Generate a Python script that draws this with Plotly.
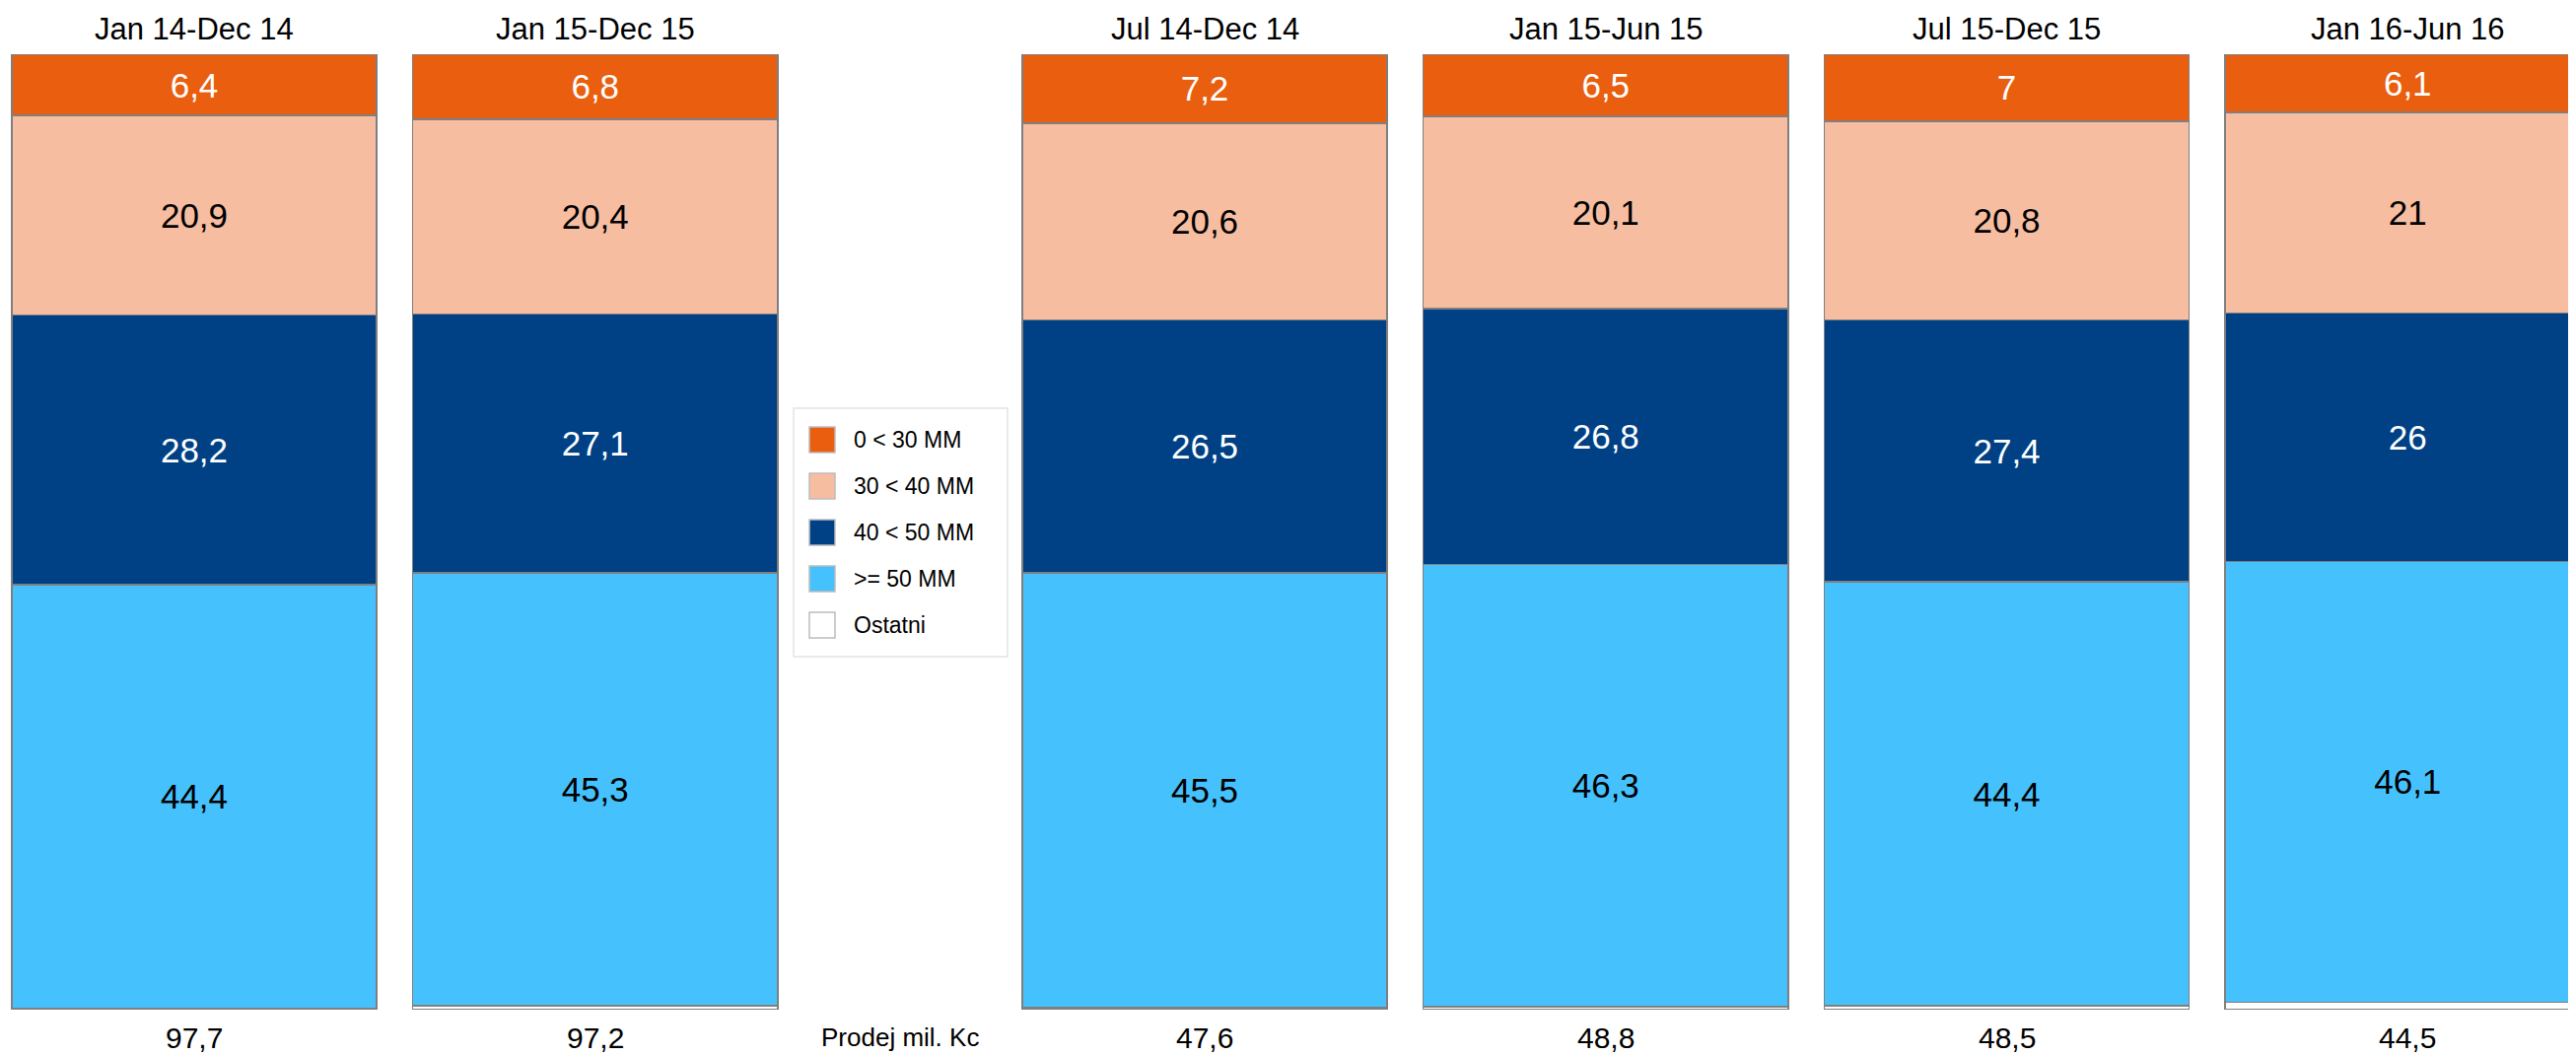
import numpy as np
import plotly.graph_objects as go

# ---- data ----
periods = ["Jan 14-Dec 14", "Jan 15-Dec 15", "Jul 14-Dec 14",
           "Jan 15-Jun 15", "Jul 15-Dec 15", "Jan 16-Jun 16"]
share_0_30 = [6.4, 6.8, 7.2, 6.5, 7.0, 6.1]
share_30_40 = [20.9, 20.4, 20.6, 20.1, 20.8, 21.0]
share_40_50 = [28.2, 27.1, 26.5, 26.8, 27.4, 26.0]
share_50_plus = [44.4, 45.3, 45.5, 46.3, 44.4, 46.1]
share_ostatni = [0.1, 0.4, 0.2, 0.3, 0.4, 0.8]
sales_total = [97.7, 97.2, 47.6, 48.8, 48.5, 44.5]
sales_label = "Prodej mil. Kc"
series_names = ["0 < 30 MM", "30 < 40 MM", "40 < 50 MM", ">= 50 MM", "Ostatni"]

# ---- style ----
PAGE_W, PAGE_H = 2613, 1071
OFF = 8  # default page body margin
W, H = PAGE_W - OFF, PAGE_H - OFF
FONT = "Arial, 'Liberation Sans', sans-serif"
colors = {"0 < 30 MM": "#E95E0F", "30 < 40 MM": "#F7BDA0",
          "40 < 50 MM": "#004186", ">= 50 MM": "#45C2FD", "Ostatni": "#FFFFFF"}
text_colors = {"0 < 30 MM": "white", "30 < 40 MM": "black",
               "40 < 50 MM": "white", ">= 50 MM": "black", "Ostatni": "black"}
edge = "#7F7F7F"

gap = 0.52
idx = np.arange(len(periods))
xpos = idx + np.where(idx >= 2, gap, 0.0)
bar_w = 0.91
pitch_px = 406.75
first_center_px = 197 - OFF


def fmt(v):
    return f"{v:g}".replace(".", ",")


stack = [("Ostatni", share_ostatni), (">= 50 MM", share_50_plus),
         ("40 < 50 MM", share_40_50), ("30 < 40 MM", share_30_40),
         ("0 < 30 MM", share_0_30)]

fig = go.Figure()
for name, vals in stack:
    fig.add_trace(go.Bar(
        x=xpos, y=vals, name=name, width=bar_w,
        marker=dict(color=colors[name], line=dict(color=edge, width=1.5)),
        text=None if name == "Ostatni" else [fmt(v) for v in vals],
        textposition="inside", insidetextanchor="middle",
        textfont=dict(family=FONT, size=35, color=text_colors[name]),
        showlegend=False, hoverinfo="skip",
    ))

# page-pixel helpers
mt = 55 - OFF
mb = H - (1024 - OFF)
ph = H - mt - mb


def px_x(p):
    return (p - OFF) / W


def px_y(p):
    return (H - mb - (p - OFF)) / ph


annotations = []
for xp, per, tot in zip(xpos, periods, sales_total):
    annotations.append(dict(x=xp, y=px_y(29), xref="x", yref="paper", text=per,
                            showarrow=False, font=dict(family=FONT, size=31, color="black"),
                            xanchor="center", yanchor="middle"))
    annotations.append(dict(x=xp, y=px_y(1052), xref="x", yref="paper", text=fmt(tot),
                            showarrow=False, font=dict(family=FONT, size=30, color="black"),
                            xanchor="center", yanchor="middle"))
annotations.append(dict(x=(xpos[1] + xpos[2]) / 2, y=px_y(1052), xref="x", yref="paper",
                        text=sales_label, showarrow=False,
                        font=dict(family=FONT, size=26, color="black"),
                        xanchor="center", yanchor="middle"))

# custom legend
shapes = [dict(type="rect", xref="paper", yref="paper",
               x0=px_x(805), x1=px_x(1022), y0=px_y(666), y1=px_y(414),
               line=dict(color="#E3E3E3", width=1.5), fillcolor="white", layer="above")]
for k, name in enumerate(series_names):
    top = 433 + 47 * k
    shapes.append(dict(type="rect", xref="paper", yref="paper",
                       x0=px_x(821), x1=px_x(847), y0=px_y(top + 26), y1=px_y(top),
                       line=dict(color="#BDBDBD", width=1.5), fillcolor=colors[name],
                       layer="above"))
    annotations.append(dict(x=px_x(864), y=px_y(top + 13), xref="paper", yref="paper",
                            text=name, showarrow=False,
                            font=dict(family=FONT, size=23, color="black"),
                            xanchor="left", yanchor="middle"))

x0 = -first_center_px / pitch_px
x1 = (W - first_center_px) / pitch_px
fig.update_layout(
    width=W, height=H, barmode="stack",
    margin=dict(l=0, r=0, t=mt, b=mb),
    plot_bgcolor="white", paper_bgcolor="white",
    xaxis=dict(range=[x0, x1], visible=False, fixedrange=True),
    yaxis=dict(range=[0, 100], visible=False, fixedrange=True),
    showlegend=False,
    shapes=shapes, annotations=annotations,
    uniformtext=dict(mode=False),
)
fig.write_html("out.html")
